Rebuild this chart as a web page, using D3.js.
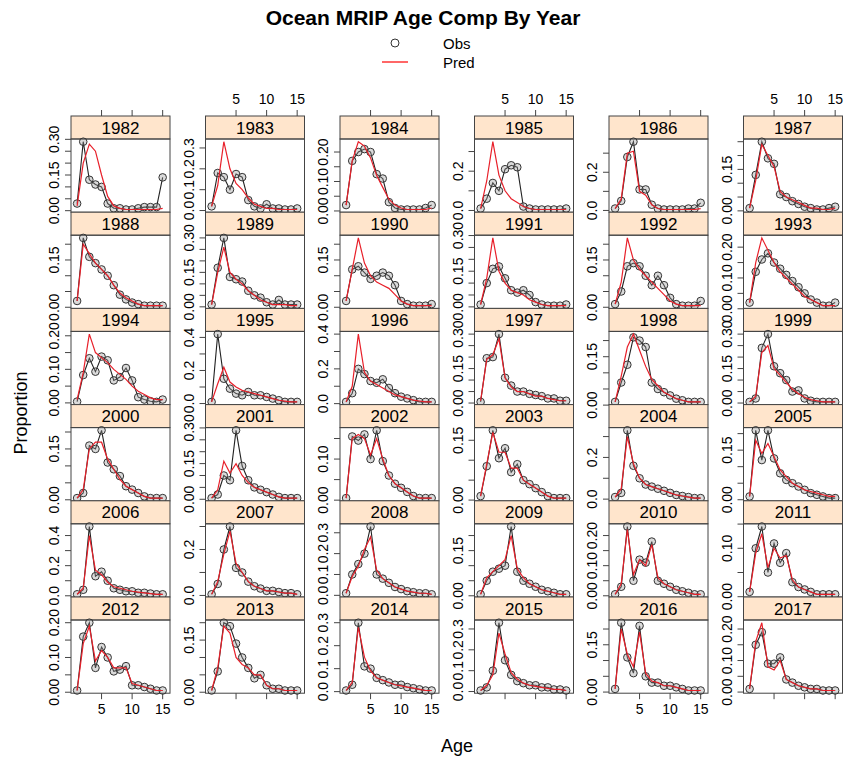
<!DOCTYPE html>
<html><head><meta charset="utf-8">
<script src="https://cdn.jsdelivr.net/npm/d3@7"></script>
<style>body{margin:0;background:#fff} text{font-family:"Liberation Sans",Arial,Helvetica,sans-serif;fill:#000}</style>
</head><body>
<svg id="chart" width="846" height="760"></svg>
<script>
const years = [1982,1983,1984,1985,1986,1987,1988,1989,1990,1991,1992,1993,1994,1995,1996,1997,1998,1999,2000,2001,2002,2003,2004,2005,2006,2007,2008,2009,2010,2011,2012,2013,2014,2015,2016,2017];
const ages = [1,2,3,4,5,6,7,8,9,10,11,12,13,14,15];
const xTickValues = [5,10,15];

// y tick spacing per panel and the tick labels that are printed (others overlap)
const yTickStep = [0.05,0.1,0.05,0.1,0.1,0.05, 0.05,0.05,0.05,0.05,0.05,0.05, 0.05,0.1,0.1,0.05,0.05,0.05,
                   0.05,0.05,0.05,0.05,0.1,0.05, 0.1,0.1,0.1,0.05,0.05,0.05, 0.05,0.05,0.1,0.1,0.05,0.05];
const yTickLabels = [
 ["0.00","0.15","0.30"],["0.0","0.1","0.2","0.3"],["0.00","0.10","0.20"],["0.0","0.2"],["0.0","0.2"],["0.00","0.15"],
 ["0.00","0.15"],["0.00","0.15","0.30"],["0.00","0.15"],["0.00","0.15","0.30"],["0.00","0.15"],["0.00","0.10","0.20"],
 ["0.00","0.10","0.20"],["0.0","0.2","0.4"],["0.0","0.2","0.4"],["0.00","0.15","0.30"],["0.00","0.15"],["0.00","0.15","0.30"],
 ["0.00","0.15"],["0.00","0.15","0.30"],["0.00","0.10"],["0.00","0.15"],["0.0","0.2"],["0.00","0.15"],
 ["0.0","0.2","0.4"],["0.0","0.2"],["0.0","0.1","0.2","0.3"],["0.00","0.15"],["0.00","0.10","0.20"],["0.00","0.10"],
 ["0.00","0.10","0.20"],["0.00","0.15"],["0.0","0.1","0.2","0.3"],["0.0","0.1","0.2","0.3"],["0.00","0.15"],["0.00","0.10","0.20"]
];

const obs = [
 [0.03,0.29,0.13,0.11,0.10,0.03,0.01,0.01,0.005,0.005,0.01,0.015,0.015,0.015,0.14], //1982
 [0.02,0.18,0.16,0.10,0.175,0.16,0.05,0.02,0.01,0.03,0.01,0.01,0.005,0.005,0.01], //1983
 [0.02,0.17,0.20,0.21,0.20,0.125,0.11,0.03,0.01,0.005,0.005,0.005,0.005,0.01,0.02], //1984
 [0.01,0.06,0.14,0.10,0.21,0.23,0.22,0.02,0.01,0.005,0.005,0.005,0.005,0.005,0.01], //1985
 [0.01,0.05,0.28,0.36,0.11,0.11,0.03,0.01,0.005,0.005,0.005,0.005,0.01,0.01,0.04], //1986
 [0.01,0.13,0.25,0.19,0.17,0.06,0.05,0.035,0.025,0.015,0.01,0.005,0.005,0.01,0.015], //1987
 [0.02,0.22,0.16,0.14,0.12,0.10,0.07,0.04,0.025,0.015,0.01,0.005,0.005,0.005,0.005], //1988
 [0.01,0.17,0.30,0.13,0.12,0.11,0.07,0.05,0.04,0.02,0.01,0.03,0.01,0.01,0.01], //1989
 [0.02,0.12,0.13,0.11,0.09,0.10,0.11,0.10,0.07,0.02,0.01,0.005,0.005,0.005,0.01], //1990
 [0.01,0.10,0.16,0.17,0.12,0.07,0.06,0.07,0.05,0.02,0.01,0.005,0.005,0.005,0.01], //1991
 [0.01,0.05,0.13,0.14,0.13,0.10,0.07,0.10,0.07,0.03,0.01,0.005,0.005,0.005,0.02], //1992
 [0.02,0.12,0.16,0.18,0.15,0.13,0.11,0.09,0.07,0.05,0.03,0.02,0.01,0.01,0.02], //1993
 [0.004,0.083,0.133,0.093,0.138,0.127,0.067,0.077,0.104,0.067,0.017,0.01,0.005,0.003,0.01], //1994
 [0.01,0.42,0.15,0.09,0.06,0.05,0.07,0.05,0.05,0.04,0.03,0.02,0.01,0.01,0.01], //1995
 [0.01,0.06,0.20,0.17,0.13,0.12,0.14,0.09,0.06,0.04,0.03,0.02,0.01,0.01,0.01], //1996
 [0.005,0.195,0.20,0.30,0.11,0.076,0.05,0.05,0.04,0.035,0.03,0.02,0.02,0.01,0.01], //1997
 [0.01,0.07,0.125,0.21,0.20,0.18,0.07,0.05,0.04,0.03,0.02,0.015,0.01,0.01,0.01], //1998
 [0.005,0.02,0.24,0.30,0.16,0.13,0.10,0.05,0.055,0.02,0.01,0.005,0.005,0.005,0.005], //1999
 [0.005,0.02,0.16,0.15,0.205,0.11,0.09,0.07,0.04,0.03,0.02,0.01,0.005,0.005,0.005], //2000
 [0.005,0.02,0.10,0.08,0.29,0.14,0.08,0.05,0.04,0.03,0.02,0.01,0.005,0.005,0.005], //2001
 [0.005,0.155,0.145,0.16,0.10,0.17,0.095,0.06,0.04,0.03,0.02,0.01,0.005,0.005,0.005], //2002
 [0.01,0.085,0.175,0.105,0.13,0.07,0.09,0.05,0.04,0.03,0.02,0.01,0.005,0.005,0.005], //2003
 [0.01,0.03,0.33,0.16,0.10,0.07,0.06,0.05,0.04,0.03,0.02,0.015,0.01,0.005,0.005], //2004
 [0.01,0.21,0.12,0.21,0.125,0.08,0.06,0.05,0.04,0.03,0.02,0.015,0.01,0.005,0.005], //2005
 [0.01,0.04,0.46,0.13,0.16,0.10,0.05,0.04,0.03,0.03,0.02,0.02,0.015,0.01,0.01], //2006
 [0.005,0.05,0.20,0.30,0.12,0.10,0.06,0.04,0.03,0.02,0.02,0.015,0.01,0.01,0.005], //2007
 [0.01,0.10,0.15,0.20,0.33,0.10,0.08,0.06,0.04,0.03,0.02,0.015,0.01,0.01,0.005], //2008
 [0.005,0.05,0.08,0.09,0.10,0.23,0.08,0.05,0.04,0.03,0.02,0.015,0.01,0.005,0.005], //2009
 [0.005,0.03,0.23,0.05,0.12,0.11,0.18,0.05,0.04,0.03,0.02,0.015,0.01,0.005,0.005], //2010
 [0.01,0.10,0.145,0.05,0.11,0.07,0.09,0.03,0.02,0.015,0.01,0.005,0.005,0.005,0.005], //2011
 [0.005,0.16,0.20,0.07,0.13,0.10,0.06,0.065,0.075,0.02,0.02,0.015,0.01,0.005,0.005], //2012
 [0.005,0.06,0.20,0.19,0.14,0.10,0.07,0.04,0.05,0.02,0.01,0.01,0.005,0.005,0.005], //2013
 [0.005,0.03,0.30,0.11,0.10,0.06,0.05,0.04,0.03,0.03,0.02,0.015,0.01,0.005,0.005], //2014
 [0.005,0.02,0.10,0.33,0.15,0.08,0.05,0.04,0.03,0.03,0.02,0.02,0.01,0.01,0.005], //2015
 [0.01,0.22,0.11,0.06,0.21,0.05,0.03,0.03,0.02,0.02,0.015,0.01,0.005,0.005,0.005], //2016
 [0.01,0.15,0.19,0.09,0.09,0.11,0.04,0.03,0.02,0.015,0.01,0.01,0.005,0.005,0.005]  //2017
];

const pred = [
 [0.02,0.20,0.28,0.25,0.15,0.06,0.02,0.01,0.005,0.005,0.005,0.005,0.005,0.005,0.01], //1982
 [0.02,0.12,0.33,0.20,0.13,0.10,0.06,0.03,0.02,0.01,0.01,0.005,0.005,0.005,0.005], //1983
 [0.02,0.17,0.235,0.22,0.18,0.12,0.08,0.04,0.02,0.01,0.005,0.005,0.005,0.005,0.01], //1984
 [0.01,0.15,0.35,0.18,0.10,0.06,0.04,0.02,0.01,0.005,0.005,0.005,0.005,0.005,0.005], //1985
 [0.01,0.06,0.30,0.31,0.10,0.08,0.03,0.01,0.005,0.005,0.005,0.005,0.005,0.005,0.01], //1986
 [0.01,0.11,0.24,0.20,0.16,0.07,0.05,0.04,0.03,0.02,0.01,0.01,0.005,0.005,0.01], //1987
 [0.02,0.20,0.17,0.14,0.12,0.10,0.07,0.045,0.03,0.02,0.01,0.005,0.005,0.005,0.005], //1988
 [0.01,0.15,0.26,0.15,0.12,0.10,0.07,0.05,0.03,0.02,0.01,0.01,0.01,0.005,0.005], //1989
 [0.02,0.12,0.22,0.14,0.10,0.08,0.07,0.06,0.04,0.02,0.01,0.005,0.005,0.005,0.005], //1990
 [0.01,0.12,0.29,0.15,0.10,0.07,0.06,0.05,0.03,0.02,0.01,0.005,0.005,0.005,0.005], //1991
 [0.01,0.08,0.22,0.15,0.12,0.10,0.08,0.06,0.04,0.02,0.01,0.005,0.005,0.005,0.005], //1992
 [0.02,0.15,0.23,0.19,0.15,0.12,0.10,0.08,0.06,0.04,0.03,0.02,0.01,0.01,0.01], //1993
 [0.01,0.09,0.205,0.15,0.135,0.12,0.10,0.085,0.07,0.05,0.035,0.025,0.015,0.01,0.01], //1994
 [0.01,0.12,0.22,0.13,0.10,0.08,0.07,0.06,0.05,0.04,0.03,0.02,0.015,0.01,0.01], //1995
 [0.01,0.10,0.40,0.18,0.13,0.11,0.09,0.07,0.05,0.04,0.03,0.02,0.015,0.01,0.01], //1996
 [0.01,0.19,0.21,0.28,0.11,0.07,0.05,0.05,0.04,0.03,0.03,0.02,0.015,0.01,0.01], //1997
 [0.01,0.09,0.18,0.22,0.17,0.12,0.08,0.06,0.04,0.03,0.02,0.015,0.01,0.01,0.01], //1998
 [0.005,0.03,0.22,0.25,0.15,0.12,0.09,0.06,0.04,0.025,0.015,0.01,0.005,0.005,0.005], //1999
 [0.005,0.03,0.15,0.17,0.17,0.12,0.09,0.06,0.04,0.03,0.02,0.01,0.005,0.005,0.005], //2000
 [0.005,0.04,0.16,0.11,0.15,0.10,0.07,0.05,0.04,0.03,0.02,0.01,0.005,0.005,0.005], //2001
 [0.005,0.15,0.16,0.15,0.11,0.15,0.10,0.06,0.04,0.03,0.02,0.01,0.005,0.005,0.005], //2002
 [0.01,0.09,0.17,0.12,0.12,0.08,0.08,0.05,0.04,0.03,0.02,0.01,0.005,0.005,0.005], //2003
 [0.01,0.05,0.30,0.17,0.10,0.07,0.06,0.05,0.04,0.03,0.02,0.015,0.01,0.005,0.005], //2004
 [0.01,0.18,0.14,0.17,0.13,0.09,0.07,0.05,0.04,0.03,0.025,0.02,0.015,0.01,0.01], //2005
 [0.01,0.05,0.40,0.17,0.14,0.09,0.06,0.05,0.04,0.03,0.025,0.02,0.015,0.01,0.01], //2006
 [0.005,0.06,0.18,0.28,0.14,0.10,0.06,0.04,0.03,0.02,0.02,0.015,0.01,0.01,0.005], //2007
 [0.01,0.09,0.14,0.22,0.28,0.12,0.08,0.06,0.04,0.03,0.02,0.015,0.01,0.01,0.005], //2008
 [0.005,0.06,0.08,0.10,0.12,0.20,0.09,0.06,0.04,0.03,0.02,0.015,0.01,0.005,0.005], //2009
 [0.005,0.04,0.22,0.07,0.12,0.10,0.17,0.06,0.04,0.03,0.02,0.015,0.01,0.005,0.005], //2010
 [0.01,0.09,0.13,0.06,0.10,0.08,0.085,0.035,0.02,0.015,0.01,0.005,0.005,0.005,0.005], //2011
 [0.005,0.14,0.19,0.09,0.12,0.10,0.07,0.07,0.07,0.025,0.02,0.015,0.01,0.005,0.005], //2012
 [0.005,0.07,0.19,0.17,0.10,0.08,0.07,0.05,0.05,0.02,0.01,0.01,0.005,0.005,0.005], //2013
 [0.005,0.04,0.28,0.15,0.09,0.06,0.05,0.04,0.03,0.025,0.02,0.015,0.01,0.005,0.005], //2014
 [0.005,0.03,0.08,0.28,0.18,0.09,0.06,0.04,0.03,0.025,0.02,0.015,0.01,0.01,0.005], //2015
 [0.01,0.20,0.12,0.08,0.19,0.06,0.035,0.03,0.02,0.02,0.015,0.01,0.005,0.005,0.005], //2016
 [0.01,0.16,0.22,0.08,0.07,0.10,0.04,0.03,0.02,0.015,0.01,0.01,0.005,0.005,0.005]  //2017
];

const svg = d3.select("#chart");
const nCols = 6;
const colX0 = 71, colPitch = 134.5, panelW = 99;
const rowY0 = 116, rowPitch = 96.2, stripH = 23;
const frameCol = "#444";
const tickFont = 14;

svg.append("text").attr("x", 423).attr("y", 25).attr("text-anchor","middle")
  .style("font-size","21px").style("font-weight","bold").text("Ocean MRIP Age Comp By Year");
svg.append("circle").attr("cx", 395).attr("cy", 43).attr("r", 4)
  .attr("fill","none").attr("stroke","#333").attr("stroke-width",1);
svg.append("text").attr("x", 443).attr("y", 49).style("font-size","15px").text("Obs");
svg.append("line").attr("x1", 382).attr("x2", 408).attr("y1", 62).attr("y2", 62)
  .attr("stroke","red").attr("stroke-width",1.2);
svg.append("text").attr("x", 443).attr("y", 68).style("font-size","15px").text("Pred");

svg.append("text").attr("x", 457).attr("y", 752).attr("text-anchor","middle")
  .style("font-size","18px").text("Age");
svg.append("text").attr("transform","translate(27,413) rotate(-90)").attr("text-anchor","middle")
  .style("font-size","18px").text("Proportion");

const nRows = Math.ceil(years.length / nCols);
years.forEach((yr, i) => {
  const c = i % nCols, r = Math.floor(i / nCols);
  const x0 = colX0 + c * colPitch;
  const sTop = rowY0 + r * rowPitch;
  const pTop = sTop + stripH, pBot = sTop + rowPitch;
  const g = svg.append("g");

  const x = d3.scaleLinear().domain([0, 16.2]).range([x0, x0 + panelW]);
  const vals = obs[i].concat(pred[i]);
  const lo = d3.min(vals), hi = d3.max(vals), ext = (hi - lo) * 0.04;
  const y = d3.scaleLinear().domain([lo - ext, hi + ext]).range([pBot, pTop]);

  g.append("rect").attr("x", x0).attr("y", sTop).attr("width", panelW).attr("height", stripH)
    .attr("fill","#ffe5cc").attr("stroke", frameCol).attr("stroke-width",1);
  g.append("text").attr("x", x0 + panelW/2).attr("y", sTop + stripH/2 + 6)
    .attr("text-anchor","middle").style("font-size","17px").text(yr);

  g.append("rect").attr("x", x0).attr("y", pTop).attr("width", panelW).attr("height", pBot - pTop)
    .attr("fill","none").attr("stroke", frameCol).attr("stroke-width",1);

  const step = yTickStep[i];
  const ticks = d3.range(0, y.domain()[1] + 1e-9, step).map(v => Math.round(v / step) * step);
  ticks.forEach(t => {
    g.append("line").attr("x1", x0 - 6).attr("x2", x0).attr("y1", y(t)).attr("y2", y(t)).attr("stroke", frameCol);
  });
  yTickLabels[i].forEach(lab => {
    const py = y(+lab);
    g.append("text").attr("transform", `translate(${x0 - 12},${py}) rotate(-90)`)
      .attr("text-anchor","middle").style("font-size", tickFont + "px").text(lab);
  });

  if (r === 0) {
    xTickValues.forEach(v => {
      g.append("line").attr("x1", x(v)).attr("x2", x(v)).attr("y1", sTop - 6).attr("y2", sTop).attr("stroke", frameCol);
      if (c % 2 === 1) g.append("text").attr("x", x(v)).attr("y", sTop - 12).attr("text-anchor","middle")
        .style("font-size", tickFont + "px").text(v);
    });
  }
  if (r === nRows - 1) {
    xTickValues.forEach(v => {
      g.append("line").attr("x1", x(v)).attr("x2", x(v)).attr("y1", pBot).attr("y2", pBot + 6).attr("stroke", frameCol);
      if (c % 2 === 0) g.append("text").attr("x", x(v)).attr("y", pBot + 21).attr("text-anchor","middle")
        .style("font-size", tickFont + "px").text(v);
    });
  }

  const line = d3.line().x((d, k) => x(ages[k])).y(d => y(d));
  g.append("path").attr("d", line(obs[i])).attr("fill","none").attr("stroke","#222").attr("stroke-width",1.1);
  g.selectAll("circle.o").data(obs[i]).enter().append("circle")
    .attr("cx", (d, k) => x(ages[k])).attr("cy", d => y(d)).attr("r", 3.8)
    .attr("fill","rgba(150,150,150,0.35)").attr("stroke","#333").attr("stroke-width",1);
  g.append("path").attr("d", line(pred[i])).attr("fill","none").attr("stroke","#e8202a").attr("stroke-width",1.2);
});
</script>
</body></html>
